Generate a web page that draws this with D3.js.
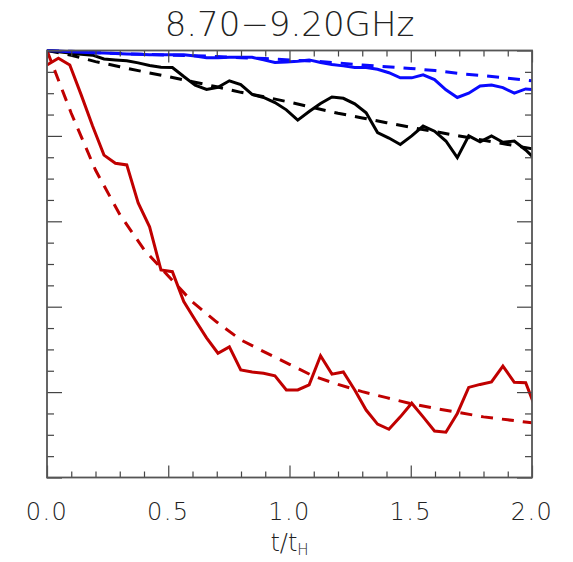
<!DOCTYPE html>
<html>
<head>
<meta charset="utf-8">
<script src="https://cdn.jsdelivr.net/npm/d3@7"></script>
<style>
html,body{margin:0;padding:0;background:#fff;}
svg{display:block;}
text{font-family:"DejaVu Sans","Liberation Sans",sans-serif;font-weight:200;fill:#222;}
</style>
</head>
<body>
<svg id="chart" width="573" height="562"></svg>
<script>
// ---- data ----
const titleText = "8.70\u22129.20GHz";
const xTickLabels = ["0.0", "0.5", "1.0", "1.5", "2.0"];
const xMajorTicks = [0, 0.5, 1.0, 1.5, 2.0];

// sampling times of the measured (solid) curves, t/t_H
const tObs = [0, 0.047, 0.094, 0.141, 0.188, 0.235, 0.282, 0.329, 0.376, 0.423,
  0.470, 0.517, 0.564, 0.611, 0.658, 0.705, 0.752, 0.799, 0.846, 0.893,
  0.940, 0.987, 1.034, 1.081, 1.128, 1.175, 1.222, 1.269, 1.316, 1.363,
  1.410, 1.457, 1.504, 1.551, 1.598, 1.645, 1.692, 1.739, 1.786, 1.833,
  1.880, 1.927, 1.974, 2.021];

const redObs = [0.966, 0.982, 0.966, 0.896, 0.823, 0.755, 0.736, 0.732, 0.643, 0.587,
  0.486, 0.482, 0.412, 0.369, 0.327, 0.291, 0.306, 0.252, 0.247, 0.244,
  0.238, 0.205, 0.205, 0.217, 0.285, 0.242, 0.247, 0.205, 0.158, 0.125,
  0.113, 0.142, 0.174, 0.142, 0.109, 0.106, 0.150, 0.211, 0.218, 0.224,
  0.261, 0.223, 0.222, 0.153];

const blackObs = [1.000, 0.997, 0.994, 0.991, 0.989, 0.980, 0.978, 0.976, 0.971, 0.965,
  0.961, 0.960, 0.939, 0.919, 0.909, 0.914, 0.929, 0.920, 0.897, 0.890,
  0.878, 0.861, 0.837, 0.857, 0.876, 0.891, 0.888, 0.875, 0.854, 0.808,
  0.795, 0.780, 0.800, 0.823, 0.811, 0.788, 0.749, 0.800, 0.786, 0.800,
  0.785, 0.788, 0.767, 0.741];

const blueObs = [1.000, 0.999, 0.997, 0.996, 0.995, 0.994, 0.993, 0.992, 0.991, 0.990,
  0.990, 0.990, 0.990, 0.987, 0.983, 0.983, 0.984, 0.984, 0.984, 0.978,
  0.972, 0.973, 0.975, 0.978, 0.972, 0.967, 0.964, 0.960, 0.960, 0.956,
  0.948, 0.936, 0.936, 0.943, 0.932, 0.908, 0.890, 0.900, 0.917, 0.919,
  0.913, 0.900, 0.910, 0.908];

// model (dashed) curves
const tModel = [0, 0.1, 0.2, 0.3, 0.4, 0.5, 0.6, 0.7, 0.8, 0.9, 1.0,
  1.1, 1.2, 1.3, 1.4, 1.5, 1.6, 1.7, 1.8, 1.9, 2.0];
const redModel = [1.000, 0.853, 0.720, 0.616, 0.534, 0.472, 0.411, 0.364, 0.322, 0.293, 0.265,
  0.237, 0.218, 0.201, 0.187, 0.173, 0.162, 0.152, 0.142, 0.135, 0.128];
const blackModel = [1.000, 0.989, 0.974, 0.962, 0.950, 0.939, 0.927, 0.915, 0.902, 0.891, 0.879,
  0.866, 0.853, 0.842, 0.831, 0.820, 0.810, 0.800, 0.790, 0.780, 0.770];
const blueModel = [1.000, 0.998, 0.995, 0.993, 0.991, 0.989, 0.988, 0.986, 0.983, 0.981, 0.978,
  0.975, 0.971, 0.966, 0.962, 0.958, 0.953, 0.946, 0.941, 0.935, 0.929];

// ---- layout ----
const PL = 47, PR = 532, PT = 50.5, PB = 477.5;
const svg = d3.select("#chart");
const x = d3.scaleLinear().domain([0, 2]).range([PL, PR]);
const y = d3.scaleLinear().domain([0, 1]).range([PB, PT]);

svg.append("defs").append("clipPath").attr("id", "plotclip")
  .append("rect").attr("x", PL).attr("y", PT - 2).attr("width", PR - PL).attr("height", PB - PT + 2);

const lineGen = d3.line().x(d => x(d[0])).y(d => y(d[1]));
const zip = (ts, vs) => ts.map((t, i) => [t, vs[i]]);

const gLines = svg.append("g").attr("clip-path", "url(#plotclip)");
const dashPat = "12,9";
const seriesList = [
  {t: tModel, v: blackModel, c: "#000000", d: dashPat},
  {t: tModel, v: blueModel, c: "#0a0aff", d: dashPat},
  {t: tModel, v: redModel, c: "#c00000", d: dashPat},
  {t: tObs, v: blackObs, c: "#000000", d: null},
  {t: tObs, v: blueObs, c: "#0a0aff", d: null},
  {t: tObs, v: redObs, c: "#c00000", d: null}
];
seriesList.forEach(s => {
  gLines.append("path").datum(zip(s.t, s.v))
    .attr("d", lineGen).attr("fill", "none")
    .attr("stroke", s.c).attr("stroke-width", 3)
    .attr("stroke-linejoin", "miter").attr("stroke-linecap", "butt")
    .attr("stroke-dasharray", s.d);
});

// ---- axes (ticks inward, on all four sides) ----
const axisColor = "#444";
const xMinor = d3.range(0, 2.0001, 0.1);
const yMinor = d3.range(0, 1.0001, 0.05);
const yMajor = d3.range(0, 1.0001, 0.2);
const isMajor = (v, arr) => arr.some(m => Math.abs(m - v) < 1e-6);

const gAx = svg.append("g");
const axBottom = gAx.append("g").attr("transform", `translate(0,${PB})`)
  .call(d3.axisTop(x).tickValues(xMinor).tickSize(6).tickFormat(""));
const axTop = gAx.append("g").attr("transform", `translate(0,${PT})`)
  .call(d3.axisBottom(x).tickValues(xMinor).tickSize(6).tickFormat(""));
[[axBottom, -1], [axTop, 1]].forEach(([a, s]) => {
  a.select(".domain").remove();
  a.selectAll(".tick line").attr("stroke", axisColor).attr("stroke-width", 1.2)
    .attr("y2", d => s * (isMajor(d, xMajorTicks) ? 12 : 6));
});
const axLeft = gAx.append("g").attr("transform", `translate(${PL},0)`)
  .call(d3.axisRight(y).tickValues(yMinor).tickSize(7).tickFormat(""));
const axRight = gAx.append("g").attr("transform", `translate(${PR},0)`)
  .call(d3.axisLeft(y).tickValues(yMinor).tickSize(7).tickFormat(""));
[[axLeft, 1], [axRight, -1]].forEach(([a, s]) => {
  a.select(".domain").remove();
  a.selectAll(".tick line").attr("stroke", axisColor).attr("stroke-width", 1.2)
    .attr("x2", d => s * (isMajor(d, yMajor) ? 15 : 7));
});
// frame
gAx.append("rect").attr("x", PL).attr("y", PT).attr("width", PR - PL).attr("height", PB - PT)
  .attr("fill", "none").attr("stroke", "#555").attr("stroke-width", 1.8);

// tick labels
svg.append("g").selectAll("text").data(xMajorTicks).join("text")
  .attr("x", d => x(d)).attr("y", 520)
  .attr("text-anchor", "middle").attr("font-size", 24)
  .attr("letter-spacing", "1.5px")
  .text((d, i) => xTickLabels[i]);

// axis title t/t_H
const xt = svg.append("text").attr("x", x(1)).attr("y", 551)
  .attr("text-anchor", "middle").attr("font-size", 24);
xt.append("tspan").text("t/t");
xt.append("tspan").attr("font-size", 15).attr("dy", 4).text("H");

// chart title
svg.append("text").attr("x", (PL + PR) / 2).attr("y", 36)
  .attr("text-anchor", "middle").attr("font-size", 34)
  .text(titleText);
</script>
</body>
</html>
